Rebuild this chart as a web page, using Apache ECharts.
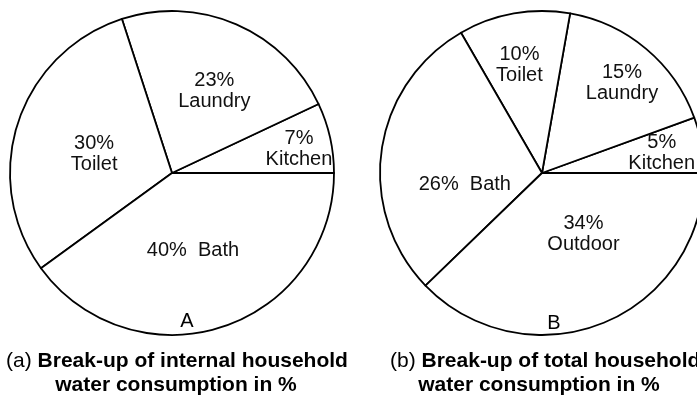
<!DOCTYPE html>
<html>
<head>
<meta charset="utf-8">
<title>Household water consumption</title>
<script src="https://cdn.jsdelivr.net/npm/echarts@6/dist/echarts.min.js"></script>
<style>
  html, body { margin: 0; padding: 0; background: #fff; }
  #chart { width: 697px; height: 399px; }
</style>
</head>
<body>
<div id="chart"></div>
<script>
// Internal household use (%)
const internalCategories = ['Kitchen', 'Laundry', 'Toilet', 'Bath'];
const internalValues = [7, 23, 30, 40];

// Total household use (%)
const totalCategories = ['Kitchen', 'Laundry', 'Toilet', 'Bath', 'Outdoor'];
const totalValues = [5, 15, 10, 26, 34];

// Slice labels shown on a single line
const singleLineLabels = ['Bath'];

// Label nudges away from the default mid-radius spot, per slice
const internalLabelShift = [[45, -6], [9, -5], [2, 7], [-5, -2]];
const totalLabelShift = [[37, -5], [26, -26], [-8, -25], [6, 23], [10, -17]];

const FONT = '"Liberation Sans", Arial, Helvetica, sans-serif';

function toData(names, values) {
  return names.map((n, i) => ({ name: n, value: values[i] }));
}

function pieSeries(center, names, values, shifts) {
  return {
    type: 'pie',
    center: center,
    radius: 162,
    startAngle: 0,
    clockwise: false,
    avoidLabelOverlap: false,
    silent: true,
    animation: false,
    itemStyle: { color: '#ffffff', borderColor: '#000000', borderWidth: 1.8 },
    label: {
      show: true,
      position: 'inside',
      color: '#111111',
      fontFamily: FONT,
      fontSize: 20,
      lineHeight: 21,
      align: 'center',
      formatter: p => singleLineLabels.includes(p.name)
        ? p.value + '%  ' + p.name
        : p.value + '%\n' + p.name
    },
    labelLine: { show: false },
    labelLayout: p => ({ dx: shifts[p.dataIndex][0], dy: shifts[p.dataIndex][1] }),
    emphasis: { disabled: true },
    data: toData(names, values)
  };
}

const captionRich = {
  tag: { fontFamily: FONT, fontSize: 21, fontWeight: 'normal', color: '#000' },
  b: { fontFamily: FONT, fontSize: 21, fontWeight: 'bold', color: '#000' }
};

function caption(text, left, top, align) {
  return {
    text: text, left: left, top: top, textAlign: align,
    textStyle: { rich: captionRich, fontSize: 21, lineHeight: 24 }
  };
}

function letter(text, left, top) {
  return {
    text: text, left: left, top: top, textAlign: 'center',
    textStyle: { fontFamily: FONT, fontSize: 20, fontWeight: 'normal', color: '#000' }
  };
}

const chart = echarts.init(document.getElementById('chart'), null, { renderer: 'canvas' });
chart.setOption({
  backgroundColor: '#ffffff',
  animation: false,
  title: [
    caption('{tag|(a)} {b|Break-up of internal household}', 172, 344, 'center'),
    caption('{b|water consumption in %}', 171, 368, 'center'),
    caption('{tag|(b)} {b|Break-up of total household}', 385, 344, 'left'),
    caption('{b|water consumption in %}', 534, 368, 'center'),
    letter('A', 182, 306),
    letter('B', 549, 308)
  ],
  series: [
    pieSeries([172, 173], internalCategories, internalValues, internalLabelShift),
    pieSeries([542, 173], totalCategories, totalValues, totalLabelShift)
  ]
});
</script>
</body>
</html>
